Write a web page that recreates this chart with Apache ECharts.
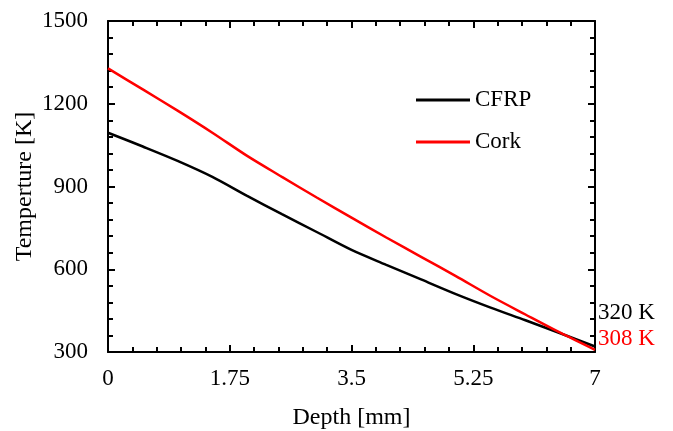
<!DOCTYPE html>
<html>
<head>
<meta charset="utf-8">
<script src="https://cdn.jsdelivr.net/npm/echarts@6/dist/echarts.min.js"></script>
<style>html,body{margin:0;padding:0;background:#fff}#c{width:673px;height:431px}</style>
</head>
<body>
<div id="c"></div>
<script>
const depth = [0, 0.5, 1, 1.5, 2, 2.5, 3, 3.5, 4, 4.5, 5, 5.5, 6, 6.5, 7];
const cfrp = [1095, 1045, 993, 935, 866, 800, 735, 670, 616, 563, 510, 461, 415, 368, 320];
const cork = [1328, 1252, 1175, 1095, 1011, 935, 860, 787, 715, 645, 575, 503, 436, 370, 308];
const xTicks = [0, 1.75, 3.5, 5.25, 7];
const yTicks = [300, 600, 900, 1200, 1500];
const minorDiv = 5;

const font = 'Liberation Serif';
const chart = echarts.init(document.getElementById('c'));
const pair = (xs, ys) => xs.map((x, i) => [x, ys[i]]);
const xStep = xTicks[1] - xTicks[0];
const yStep = yTicks[1] - yTicks[0];
const xRange = { type: 'value', min: xTicks[0], max: xTicks[xTicks.length - 1] };
const yRange = { type: 'value', min: yTicks[0], max: yTicks[yTicks.length - 1] };
const major = (pos, step) => ({
  position: pos, interval: step,
  axisLine: { show: true, onZero: false, lineStyle: { color: '#000', width: 2 } },
  axisTick: { show: true, inside: true, length: 7, lineStyle: { color: '#000', width: 2 } },
  splitLine: { show: false },
  axisLabel: { show: false }
});
const minor = (pos, step) => ({
  position: pos, interval: step / minorDiv,
  axisLine: { show: false, onZero: false },
  axisTick: { show: true, inside: true, length: 5, lineStyle: { color: '#000', width: 2 } },
  splitLine: { show: false },
  axisLabel: { show: false }
});
chart.setOption({
  animation: false,
  backgroundColor: '#fff',
  textStyle: { fontFamily: font },
  grid: { left: 108, right: 78, top: 21, bottom: 79, containLabel: false, outerBoundsMode: 'none' },
  legend: {
    orient: 'vertical', left: 411, top: 83, itemWidth: 54, itemHeight: 3, itemGap: 18,
    icon: 'rect',
    textStyle: { fontFamily: font, fontSize: 23, color: '#000', lineHeight: 24 },
    data: ['CFRP', 'Cork']
  },
  xAxis: [
    Object.assign({}, xRange, major('bottom', xStep), {
      name: 'Depth [mm]', nameLocation: 'middle', nameGap: 54, nameMoveOverlap: false,
      nameTextStyle: { fontFamily: font, fontSize: 24, color: '#000' },
      axisLabel: { show: true, fontFamily: font, fontSize: 23, color: '#000', margin: 15, formatter: v => String(v) }
    }),
    Object.assign({}, xRange, major('top', xStep)),
    Object.assign({}, xRange, minor('bottom', xStep)),
    Object.assign({}, xRange, minor('top', xStep))
  ],
  yAxis: [
    Object.assign({}, yRange, major('left', yStep), {
      name: 'Temperture [K]', nameLocation: 'middle', nameGap: 71, nameMoveOverlap: false,
      nameTextStyle: { fontFamily: font, fontSize: 24, color: '#000' },
      axisLabel: { show: true, fontFamily: font, fontSize: 23, color: '#000', margin: 20, formatter: v => String(v) }
    }),
    Object.assign({}, yRange, major('right', yStep)),
    Object.assign({}, yRange, minor('left', yStep)),
    Object.assign({}, yRange, minor('right', yStep))
  ],
  series: [
    {
      name: 'CFRP', type: 'line', smooth: 0.3, symbol: 'none', data: pair(depth, cfrp),
      lineStyle: { color: '#000', width: 2.5 }, itemStyle: { color: '#000' },
      endLabel: { show: true, formatter: p => p.value[1] + ' K', fontFamily: font, fontSize: 23, color: '#000', distance: 3, offset: [0, -34] }
    },
    {
      name: 'Cork', type: 'line', smooth: 0.3, symbol: 'none', data: pair(depth, cork),
      lineStyle: { color: '#ff0000', width: 2.5 }, itemStyle: { color: '#ff0000' },
      endLabel: { show: true, formatter: p => p.value[1] + ' K', fontFamily: font, fontSize: 23, color: '#ff0000', distance: 3, offset: [0, -11] }
    }
  ]
});
</script>
</body>
</html>
